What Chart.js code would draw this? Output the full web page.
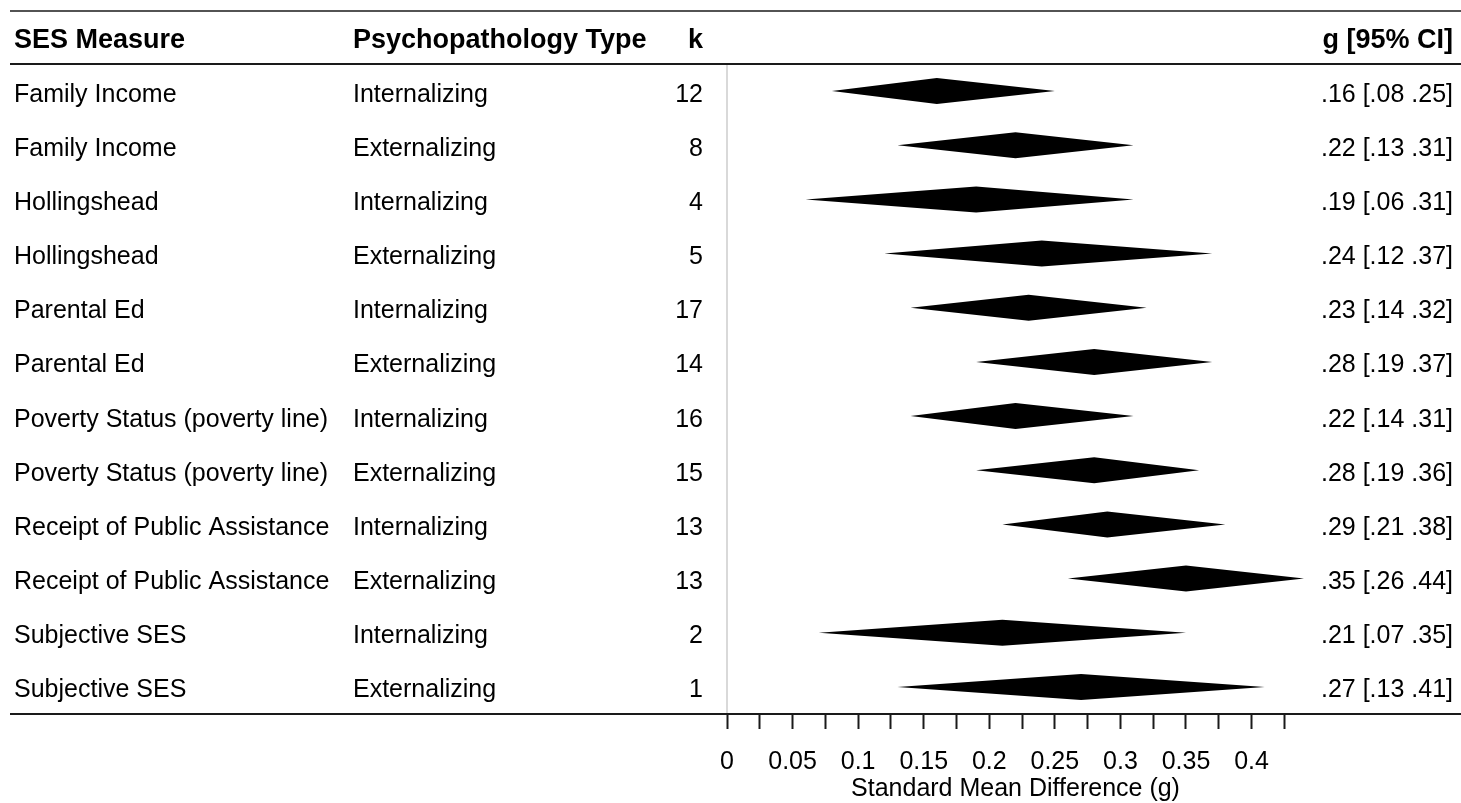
<!DOCTYPE html>
<html>
<head>
<meta charset="utf-8">
<title>SES and psychopathology: forest plot</title>
<script src="https://cdn.jsdelivr.net/npm/chart.js@4/dist/chart.umd.min.js"></script>
<style>
  html, body { margin: 0; padding: 0; background: #ffffff; }
  canvas { display: block; }
</style>
</head>
<body>
<canvas id="forest" width="1461" height="803"></canvas>
<script>
// Table columns
const sesMeasures = [
  'Family Income', 'Family Income',
  'Hollingshead', 'Hollingshead',
  'Parental Ed', 'Parental Ed',
  'Poverty Status (poverty line)', 'Poverty Status (poverty line)',
  'Receipt of Public Assistance', 'Receipt of Public Assistance',
  'Subjective SES', 'Subjective SES'
];
const psychTypes = [
  'Internalizing', 'Externalizing', 'Internalizing', 'Externalizing',
  'Internalizing', 'Externalizing', 'Internalizing', 'Externalizing',
  'Internalizing', 'Externalizing', 'Internalizing', 'Externalizing'
];
const kStudies = [12, 8, 4, 5, 17, 14, 16, 15, 13, 13, 2, 1];

// Pooled effect sizes (Hedges' g) with 95% confidence limits
const gEstimate = [0.16, 0.22, 0.19, 0.24, 0.23, 0.28, 0.22, 0.28, 0.29, 0.35, 0.21, 0.27];
const ciLower   = [0.08, 0.13, 0.06, 0.12, 0.14, 0.19, 0.14, 0.19, 0.21, 0.26, 0.07, 0.13];
const ciUpper   = [0.25, 0.31, 0.31, 0.37, 0.32, 0.37, 0.31, 0.36, 0.38, 0.44, 0.35, 0.41];

// Column headings and axis text
const headers = ['SES Measure', 'Psychopathology Type', 'k', 'g [95% CI]'];
const axisTitle = 'Standard Mean Difference (g)';
const axisMin = 0;
const axisMax = 0.44;
const tickStep = 0.025;
const labelStep = 0.05;

const FONT = '"Liberation Sans", Arial, Helvetica, sans-serif';
const SIZE = 25;
const HEAD_SIZE = 27;

// ".16" style number formatting
function fmt(v) {
  return v.toFixed(2).replace(/^0\./, '.');
}

const forestPlugin = {
  id: 'forestTable',
  beforeDatasetsDraw(chart) {
    const { ctx, chartArea, scales } = chart;
    const x0 = scales.x.getPixelForValue(0);
    ctx.save();
    // reference line at g = 0
    ctx.strokeStyle = '#cccccc';
    ctx.lineWidth = 1.5;
    ctx.beginPath();
    ctx.moveTo(x0, chartArea.top);
    ctx.lineTo(x0, chartArea.bottom);
    ctx.stroke();
    ctx.restore();
  },
  afterDatasetsDraw(chart) {
    const { ctx, chartArea, scales, width } = chart;
    const xs = scales.x, ys = scales.y;
    const halfH = 13;

    ctx.save();
    // diamonds: lower limit, estimate, upper limit
    ctx.fillStyle = '#000000';
    for (let i = 0; i < gEstimate.length; i++) {
      const yc = ys.getPixelForValue(i);
      const xl = xs.getPixelForValue(ciLower[i]);
      const xm = xs.getPixelForValue(gEstimate[i]);
      const xr = xs.getPixelForValue(ciUpper[i]);
      ctx.beginPath();
      ctx.moveTo(xl, yc);
      ctx.lineTo(xm, yc - halfH);
      ctx.lineTo(xr, yc);
      ctx.lineTo(xm, yc + halfH);
      ctx.closePath();
      ctx.fill();
    }

    // table rules
    ctx.strokeStyle = '#1a1a1a';
    ctx.lineWidth = 1.5;
    ctx.beginPath();
    ctx.moveTo(10, 11);
    ctx.lineTo(width, 11);
    ctx.stroke();
    ctx.lineWidth = 2;
    ctx.beginPath();
    ctx.moveTo(10, chartArea.top);
    ctx.lineTo(width, chartArea.top);
    ctx.moveTo(10, chartArea.bottom);
    ctx.lineTo(width, chartArea.bottom);
    ctx.stroke();

    // column headings
    const colSes = 14, colType = 353, colK = 703, colG = 1453;
    ctx.fillStyle = '#000000';
    ctx.textBaseline = 'alphabetic';
    ctx.font = 'bold ' + HEAD_SIZE + 'px ' + FONT;
    const headY = 48;
    ctx.textAlign = 'left';
    ctx.fillText(headers[0], colSes, headY);
    ctx.fillText(headers[1], colType, headY);
    ctx.textAlign = 'right';
    ctx.fillText(headers[2], colK, headY);
    ctx.fillText(headers[3], colG, headY);

    // rows
    ctx.font = SIZE + 'px ' + FONT;
    for (let i = 0; i < sesMeasures.length; i++) {
      const yb = ys.getPixelForValue(i) + 10.5;
      ctx.textAlign = 'left';
      ctx.fillText(sesMeasures[i], colSes, yb);
      ctx.fillText(psychTypes[i], colType, yb);
      ctx.textAlign = 'right';
      ctx.fillText(String(kStudies[i]), colK, yb);
      ctx.fillText(fmt(gEstimate[i]) + ' [' + fmt(ciLower[i]) + ' ' + fmt(ciUpper[i]) + ']', colG, yb);
    }
    ctx.restore();
  }
};

new Chart(document.getElementById('forest'), {
  type: 'scatter',
  data: {
    datasets: [{
      data: gEstimate.map((g, i) => ({ x: g, y: i })),
      pointRadius: 0,
      pointHoverRadius: 0,
      showLine: false
    }]
  },
  options: {
    responsive: false,
    animation: false,
    events: [],
    layout: { padding: { left: 727, right: 157, top: 64, bottom: 0 } },
    plugins: {
      legend: { display: false },
      tooltip: { enabled: false }
    },
    scales: {
      x: {
        type: 'linear',
        position: 'bottom',
        min: axisMin,
        max: axisMax,
        afterFit(scale) { scale.height = 89; },
        border: { display: false },
        grid: {
          drawOnChartArea: false,
          drawTicks: true,
          tickLength: 15,
          tickWidth: 2,
          tickColor: '#1a1a1a'
        },
        ticks: {
          stepSize: tickStep,
          includeBounds: false,
          autoSkip: false,
          maxRotation: 0,
          padding: 18,
          color: '#000000',
          font: { family: FONT, size: SIZE },
          callback(v) {
            const r = Math.round(v / labelStep);
            if (Math.abs(v / labelStep - r) > 1e-6) return '';
            return String(Math.round(v * 100) / 100);
          }
        },
        title: {
          display: true,
          text: axisTitle,
          color: '#000000',
          font: { family: FONT, size: SIZE },
          padding: { top: 0, bottom: -1 }
        }
      },
      y: {
        type: 'linear',
        display: false,
        min: -0.5,
        max: sesMeasures.length - 0.5,
        reverse: true
      }
    }
  },
  plugins: [forestPlugin]
});
</script>
</body>
</html>
